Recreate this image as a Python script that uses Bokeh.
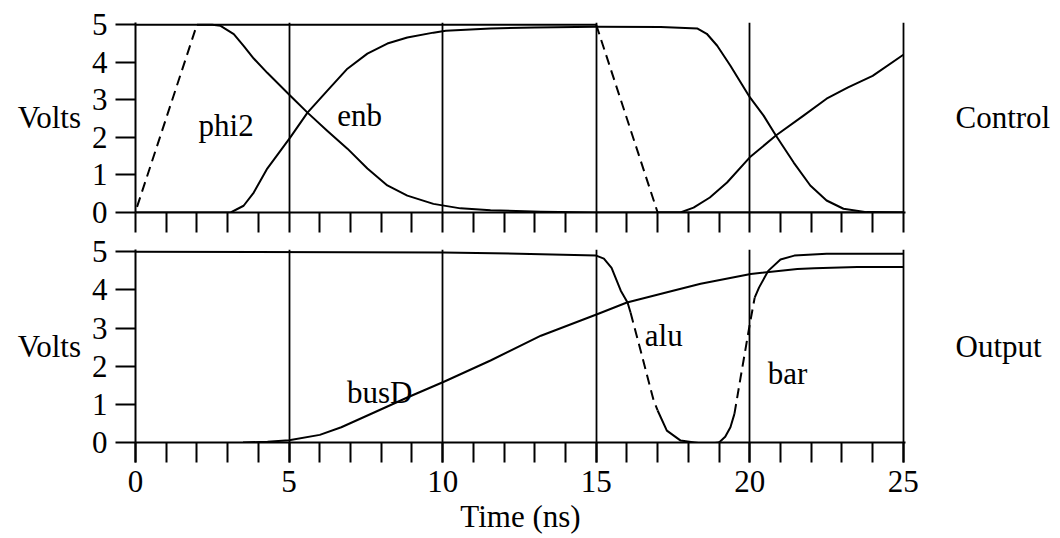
from bokeh.plotting import figure
from bokeh.layouts import column
from bokeh.models import Range1d, FixedTicker, LinearAxis, Grid
from bokeh.core.properties import value
from bokeh.embed import file_html
from bokeh.resources import INLINE

# ---------------- data ----------------
x_major = [0, 5, 10, 15, 20, 25]
x_minor = list(range(0, 26))
y_ticks = [0, 1, 2, 3, 4, 5]
grid_t = [5, 10, 15, 20, 25]

# Control panel
phi2_t = [0.05, 2.0, 15.0, 17.0, 25.0]
phi2_v = [0.15, 5.0, 5.0, 0.0, 0.0]
phi2_dash = [(0.0, 2.0), (15.0, 17.0)]

ctl_a_t = [0.0, 2.5, 2.77, 3.2, 3.52, 3.85, 4.29, 5.04, 5.6, 6.24, 6.9, 7.55, 8.2, 8.85,
           9.7, 10.58, 11.56, 13.2, 15.0, 17.0, 17.74, 18.17, 18.7, 19.26, 20.0, 20.85,
           21.75, 22.5, 23.2, 24.0, 25.0]
ctl_a_v = [5.0, 5.0, 4.97, 4.75, 4.44, 4.1, 3.72, 3.11, 2.66, 2.18, 1.7, 1.17, 0.72, 0.45,
           0.23, 0.11, 0.06, 0.02, 0.0, 0.0, 0.0, 0.13, 0.4, 0.8, 1.47, 2.05,
           2.58, 3.03, 3.33, 3.64, 4.2]

enb_t = [0.0, 3.1, 3.52, 3.85, 4.29, 5.04, 5.6, 6.24, 6.9, 7.55, 8.2, 8.85, 9.7, 10.1,
         11.56, 13.0, 15.0, 17.1, 18.3, 18.6, 18.94, 19.37, 20.0, 20.45, 20.85, 21.43,
         21.97, 22.5, 23.05, 23.8, 25.0]
enb_v = [0.0, 0.0, 0.18, 0.53, 1.17, 2.0, 2.66, 3.24, 3.83, 4.23, 4.5, 4.66, 4.79, 4.84,
         4.9, 4.93, 4.95, 4.94, 4.9, 4.76, 4.44, 3.91, 3.07, 2.58, 2.05, 1.33,
         0.72, 0.32, 0.1, 0.01, 0.0]

ctl_labels = ["phi2", "enb"]
ctl_label_t = [2.95, 7.3]
ctl_label_v = [2.31, 2.58]

# Output panel
alu_t = [0.0, 10.0, 12.5, 15.0, 15.25, 15.5, 15.8, 16.02, 16.12, 16.45, 16.87, 17.0, 17.3,
         17.75, 18.2, 18.6, 19.0]
alu_v = [5.0, 4.98, 4.95, 4.9, 4.82, 4.58, 3.98, 3.67, 3.4, 2.4, 1.1, 0.84, 0.31,
         0.05, 0.0, -0.04, 0.0]
alu_dash = [(16.1, 17.0)]

bar_t = [19.0, 19.2, 19.37, 19.5, 19.7, 20.0, 20.16, 20.3, 20.6, 21.0, 21.45, 22.5, 25.0]
bar_v = [0.0, 0.15, 0.4, 0.75, 1.7, 3.1, 3.8, 4.06, 4.5, 4.8, 4.9, 4.95, 4.95]
bar_dash = [(19.45, 20.2)]

busd_t = [3.5, 4.3, 5.0, 6.0, 6.7, 7.75, 8.85, 10.06, 11.56, 13.2, 15.05, 16.0, 17.5,
          18.4, 20.03, 21.55, 22.1, 23.5, 25.0]
busd_v = [0.0, 0.02, 0.06, 0.2, 0.4, 0.78, 1.18, 1.6, 2.15, 2.8, 3.37, 3.67, 3.98,
          4.16, 4.42, 4.55, 4.57, 4.6, 4.6]

out_labels = ["busD", "alu", "bar"]
out_label_t = [7.95, 17.2, 21.23]
out_label_v = [1.31, 2.8, 1.8]

FONT = "Liberation Serif"
FS = "31px"
LW = 2.0
DASH = "10 6"


def split_runs(t, v, windows):
    """Split a polyline into solid and dashed runs by time windows."""
    runs = []
    for i in range(len(t) - 1):
        mid = 0.5 * (t[i] + t[i + 1])
        dashed = any(a <= mid <= b for a, b in windows)
        if runs and runs[-1][2] == dashed:
            runs[-1][0].append(t[i + 1])
            runs[-1][1].append(v[i + 1])
        else:
            runs.append(([t[i], t[i + 1]], [v[i], v[i + 1]], dashed))
    return runs


def draw(p, t, v, windows=()):
    for xs, ys, dashed in split_runs(t, v, list(windows)):
        p.line(xs, ys, line_color="black", line_width=LW, line_join="round",
               line_dash=DASH if dashed else "solid")


def make_panel(height, top, bottom, side_label, show_xlabels):
    p = figure(width=1060, height=height, output_backend="svg", toolbar_location=None,
               x_range=Range1d(0, 25.07), y_range=Range1d(0, 5.06),
               min_border_left=135, min_border_right=155,
               min_border_top=top, min_border_bottom=bottom,
               x_axis_type=None, y_axis_type=None)
    p.outline_line_color = None
    p.background_fill_color = "white"
    p.border_fill_color = "white"

    if show_xlabels:
        xa = LinearAxis(ticker=FixedTicker(ticks=x_major, minor_ticks=x_minor))
    else:
        xa = LinearAxis(ticker=FixedTicker(ticks=[], minor_ticks=x_minor))
    xa.axis_line_color = "black"
    xa.axis_line_width = LW
    xa.major_tick_out = 20
    xa.major_tick_in = 0
    xa.minor_tick_out = 20
    xa.minor_tick_in = 0
    xa.major_tick_line_width = LW
    xa.minor_tick_line_width = LW
    xa.major_tick_line_color = "black"
    xa.minor_tick_line_color = "black"
    xa.major_label_text_font = FONT
    xa.major_label_text_color = "black"
    xa.major_label_text_font_size = FS
    if show_xlabels:
        xa.major_label_standoff = 8
        xa.axis_label = "Time (ns)"
        xa.axis_label_text_font = FONT
        xa.axis_label_text_font_size = FS
        xa.axis_label_text_font_style = "normal"
        xa.axis_label_text_color = "black"
        xa.axis_label_standoff = 4
    else:
        xa.major_label_standoff = 0
    p.add_layout(xa, "below")

    ya = LinearAxis(ticker=FixedTicker(ticks=y_ticks, minor_ticks=[]))
    ya.axis_line_color = "black"
    ya.axis_line_width = LW
    ya.major_tick_out = 20
    ya.major_tick_in = 0
    ya.major_tick_line_width = LW
    ya.major_tick_line_color = "black"
    ya.minor_tick_line_color = None
    ya.major_label_text_font = FONT
    ya.major_label_text_font_size = FS
    ya.major_label_text_color = "black"
    ya.major_label_standoff = 8
    ya.axis_label = "Volts"
    ya.axis_label_orientation = "horizontal"
    ya.axis_label_text_font = FONT
    ya.axis_label_text_font_size = FS
    ya.axis_label_text_font_style = "normal"
    ya.axis_label_text_color = "black"
    ya.axis_label_standoff = 8
    p.add_layout(ya, "left")

    ra = LinearAxis(ticker=FixedTicker(ticks=[], minor_ticks=[]))
    ra.axis_line_color = None
    ra.major_tick_line_color = None
    ra.minor_tick_line_color = None
    ra.axis_label = side_label
    ra.axis_label_orientation = "horizontal"
    ra.axis_label_text_font = FONT
    ra.axis_label_text_font_size = FS
    ra.axis_label_text_font_style = "normal"
    ra.axis_label_text_color = "black"
    ra.axis_label_standoff = 50
    p.add_layout(ra, "right")

    g = Grid(dimension=0, ticker=FixedTicker(ticks=grid_t))
    g.grid_line_color = "black"
    g.grid_line_width = 1.8
    p.add_layout(g)
    return p


top = make_panel(234, 22, 22, "Control", False)
draw(top, phi2_t, phi2_v, phi2_dash)
draw(top, ctl_a_t, ctl_a_v)
draw(top, enb_t, enb_v)
top.text(x=ctl_label_t, y=ctl_label_v, text=ctl_labels, text_font=value(FONT),
         text_font_size=FS, text_align="center", text_baseline="alphabetic",
         text_color="black")

bot = make_panel(304, 15, 96, "Output", True)
draw(bot, busd_t, busd_v)
draw(bot, alu_t, alu_v, alu_dash)
draw(bot, bar_t, bar_v, bar_dash)
bot.text(x=out_label_t, y=out_label_v, text=out_labels, text_font=value(FONT),
         text_font_size=FS, text_align="center", text_baseline="alphabetic",
         text_color="black")

layout = column(top, bot, spacing=0)
open("out.html", "w").write(file_html(layout, INLINE))
